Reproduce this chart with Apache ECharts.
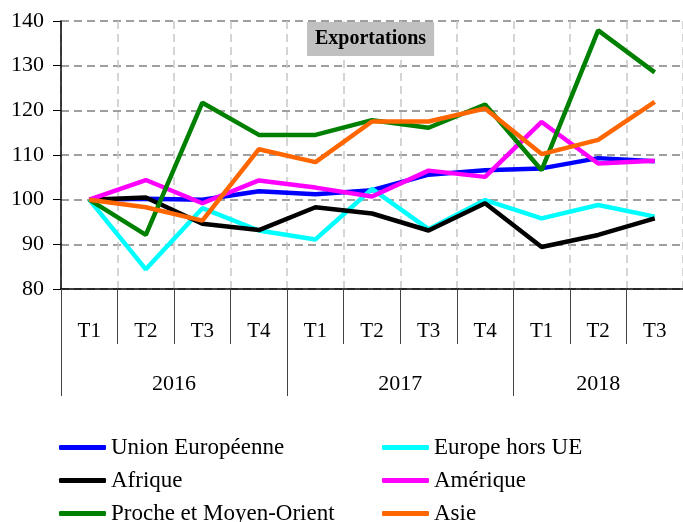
<!DOCTYPE html>
<html lang="fr">
<head>
    <meta charset="UTF-8">
    <title>Exportations</title>
    <style>
        * {
            padding: 0;
            margin: 0;
        }

        #chart {
            width: 683px;
            height: 522px;
            background: #fff;
        }
    </style>
    <script src="https://cdn.jsdelivr.net/npm/echarts@6/dist/echarts.min.js"></script>
</head>
<body>
<div id="chart"></div>
<script>
    // quarters and years
    const quarters = ['T1', 'T2', 'T3', 'T4', 'T1', 'T2', 'T3', 'T4', 'T1', 'T2', 'T3']
    const years = ['2016', '2017', '2018']
    const yearStarts = [0, 4, 8, 11]

    // indices, base 100 = T1 2016
    const unionEuropeenne = [100, 100.2, 100, 101.9, 101.2, 102.1, 105.6, 106.6, 107, 109.3, 108.6]
    const europeHorsUE = [100, 84.4, 98.1, 93.1, 91.1, 102.4, 93.4, 99.9, 95.8, 98.8, 96.2]
    const afrique = [100, 100.5, 94.6, 93.2, 98.3, 96.9, 93.1, 99.2, 89.4, 92.1, 95.8]
    const amerique = [100, 104.4, 99.2, 104.3, 102.7, 100.7, 106.5, 105.1, 117.4, 108.1, 108.7]
    const procheMoyenOrient = [100, 92.1, 121.7, 114.5, 114.5, 117.8, 116.1, 121.3, 106.6, 137.9, 128.5]
    const asie = [100, 98.3, 95.3, 111.3, 108.4, 117.5, 117.5, 120.4, 110.2, 113.4, 121.9]

    const serif = '"Liberation Serif", "DejaVu Serif", serif'

    let chart = echarts.init(document.getElementById('chart'))

    function line(name, data, color) {
        return {
            name: name,
            type: 'line',
            data: data,
            symbol: 'none',
            color: color,
            lineStyle: {width: 4.5, color: color},
            xAxisIndex: 0
        }
    }

    // label positions for years: middle of each group of quarters
    let yearMids = years.map((y, i) => (yearStarts[i] + yearStarts[i + 1]) / 2)

    let legendText = {fontFamily: serif, fontSize: 23, color: '#000', lineHeight: 23}

    function legendColumn(left, names) {
        return {
            orient: 'vertical',
            left: left,
            top: 431,
            height: 200,
            itemWidth: 47,
            itemHeight: 5,
            itemGap: 10,
            icon: 'roundRect',
            textStyle: legendText,
            data: names
        }
    }

    let option = {
        animation: false,
        backgroundColor: '#fff',
        title: {
            text: 'Exportations',
            left: 307,
            top: 22,
            padding: [7, 8],
            backgroundColor: '#c0c0c0',
            textStyle: {fontFamily: serif, fontSize: 20, fontWeight: 'bold', color: '#000'}
        },
        legend: [
            legendColumn(54, ['Union Européenne', 'Afrique', 'Proche et Moyen-Orient']),
            legendColumn(377, ['Europe hors UE', 'Amérique', 'Asie'])
        ],
        grid: {
            left: 61,
            right: -3,
            top: 21,
            bottom: 233,
            containLabel: false
        },
        xAxis: [
            {
                type: 'category',
                data: quarters,
                boundaryGap: true,
                axisLine: {lineStyle: {color: '#000', width: 1.5}},
                axisTick: {show: true, interval: 0, length: 55, lineStyle: {color: '#444'}},
                axisLabel: {interval: 0, margin: 32, fontFamily: serif, fontSize: 21, color: '#000'},
                splitLine: {show: true, interval: 0, lineStyle: {color: '#c8c8c8', type: [8, 5], width: 1.5}}
            },
            {
                type: 'value',
                position: 'bottom',
                min: 0,
                max: quarters.length,
                axisLine: {show: false},
                splitLine: {show: false},
                axisTick: {
                    show: true,
                    length: 107,
                    customValues: yearStarts,
                    lineStyle: {color: '#444'}
                },
                axisLabel: {
                    margin: 84,
                    customValues: yearMids,
                    fontFamily: serif,
                    fontSize: 22,
                    color: '#000',
                    formatter: v => years[yearMids.indexOf(v)] || ''
                }
            }
        ],
        yAxis: {
            type: 'value',
            min: 80,
            max: 140,
            interval: 10,
            axisLine: {show: true, lineStyle: {color: '#000', width: 1.5}},
            axisTick: {show: true, length: 8, lineStyle: {color: '#000'}},
            axisLabel: {margin: 17, fontFamily: serif, fontSize: 22, color: '#000'},
            splitLine: {show: true, lineStyle: {color: '#808080', type: [8, 5], width: 1.5}}
        },
        series: [
            line('Union Européenne', unionEuropeenne, '#0000ff'),
            line('Europe hors UE', europeHorsUE, '#00ffff'),
            line('Afrique', afrique, '#000000'),
            line('Amérique', amerique, '#ff00ff'),
            line('Proche et Moyen-Orient', procheMoyenOrient, '#008000'),
            line('Asie', asie, '#ff6600')
        ]
    }
    chart.setOption(option)
</script>
</body>
</html>
